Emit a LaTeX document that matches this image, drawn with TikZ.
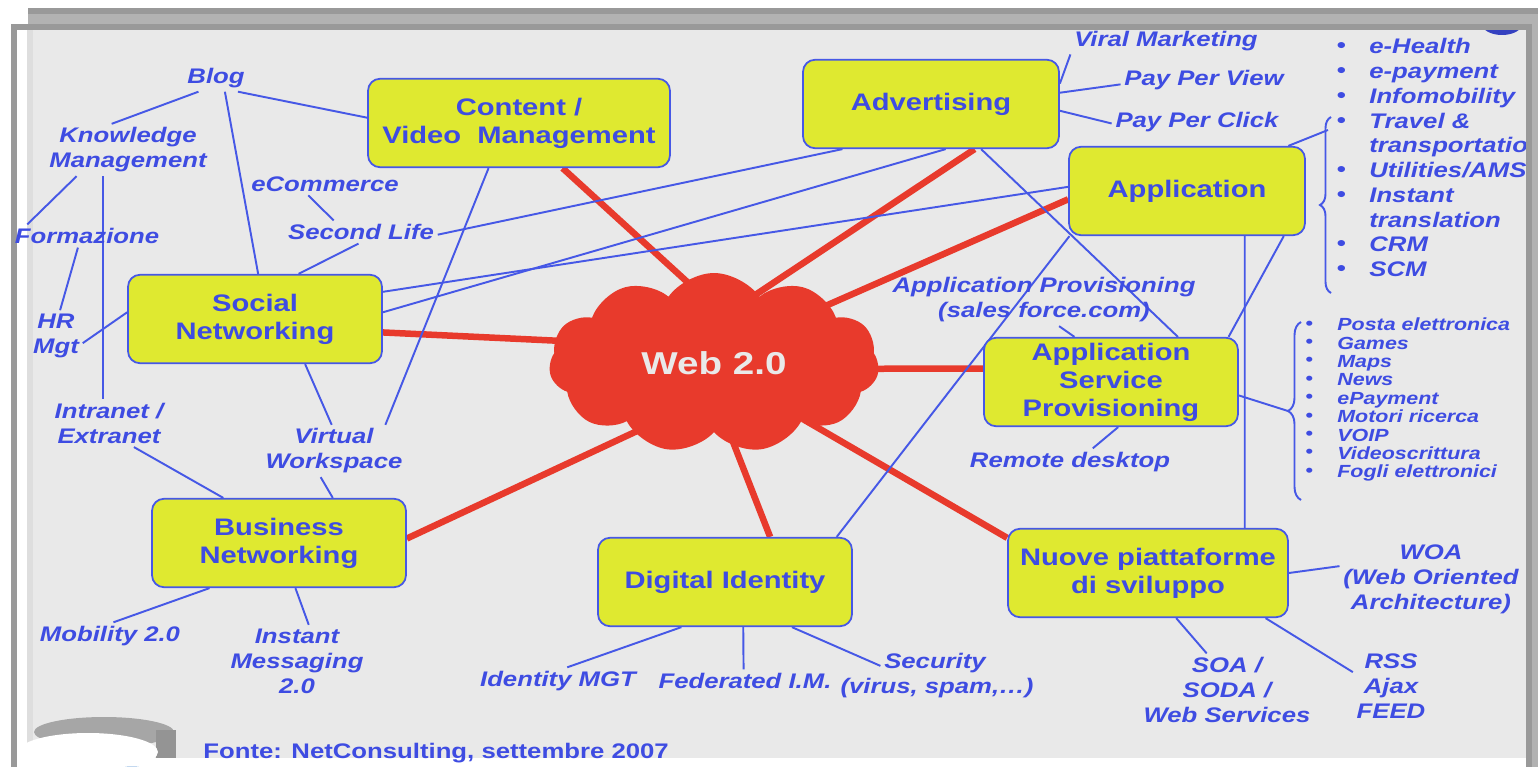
\documentclass[tikz,border=0pt]{standalone}
\usepackage{fontspec}
\setmainfont{Liberation Sans}[FakeStretch=1.22]
\usetikzlibrary{calc}
\usetikzlibrary{positioning}
\usetikzlibrary{shapes.symbols}
\usetikzlibrary{decorations.pathreplacing}

\definecolor{tblue}{RGB}{62,76,226}
\definecolor{lblue}{RGB}{70,88,230}
\definecolor{ybox}{RGB}{223,233,48}
\definecolor{webred}{RGB}{232,58,44}
\definecolor{slide}{RGB}{233,233,233}
\definecolor{frame}{RGB}{153,153,153}
\definecolor{framelt}{RGB}{178,178,178}

\pgfdeclarelayer{bg}
\pgfdeclarelayer{lines}
\pgfdeclarelayer{fg}
\pgfsetlayers{bg,lines,main,fg}

\tikzset{
    box/.style={draw=lblue, fill=ybox, line width=1pt, rounded corners=0.24cm,
        minimum height=1.77cm, inner sep=0pt, align=center, text=tblue,
        font=\fontsize{13.6}{16}\selectfont\bfseries},
    lab/.style={text=tblue, align=center, inner sep=2pt,
        font=\fontsize{12}{14.2}\selectfont\bfseries\itshape},
    small/.style={text=tblue, inner sep=0pt,
        font=\fontsize{10}{10.4}\selectfont\bfseries\itshape},
    link/.style={draw=lblue, line width=1.1pt},
    hot/.style={draw=webred, line width=0.13cm, shorten >=-8pt},
    brc/.style={draw=lblue, line width=1.1pt, decorate,
        decoration={brace, amplitude=#1}},
}

\begin{document}
\begin{tikzpicture}[x=0.02cm, y=-0.02cm]
    \useasboundingbox (0,0) rectangle (1538,767);

    \begin{pgfonlayer}{bg}
        \fill [white] (0,0) rectangle (1538,767);
        \fill [framelt] (28,8) rectangle (1538,767);
        \fill [frame] (11,24) rectangle (1532,767);
        \fill [white] (17,30) rectangle (1526,767);
        \fill [black!13] (27,30) rectangle (1526,758);
        \fill [slide] (33,30) rectangle (1526,758);
        \fill [tblue!85!black] (1502,24) ellipse (0.4cm and 0.22cm);
        \fill [frame] (28,8) rectangle (1538,14);
        \fill [framelt] (28,14) rectangle (1538,24);
        \fill [frame] (11,24) rectangle (1532,30);
        \fill [black!35] (104,732) ellipse (1.4cm and 0.3cm);
        \fill [black!42] (156,730) rectangle (176,758);
        \fill [white] (88,752) ellipse (1.4cm and 0.38cm);
        \fill [cyan!55!blue!70] (132,774) ellipse (0.4cm and 0.15cm);
    \end{pgfonlayer}

    \node (web) [cloud, cloud puffs=11, cloud puff arc=110, cloud ignores aspect,
        minimum width=6.6cm, minimum height=3.6cm, fill=webred, inner sep=0pt,
        text=slide, font=\fontsize{18}{20}\selectfont\bfseries] at (714,363) {Web 2.0};

    \node (cvm) [box, minimum width=6.04cm] at (519,123) {Content /\\Video\ \ Management};
    \node (adv) [box, minimum width=5.12cm] at (931,104) {Advertising};
    \node (app) [box, minimum width=4.72cm] at (1187,191) {Application};
    \node (soc) [box, minimum width=5.08cm] at (255,319) {Social\\Networking};
    \node (asp) [box, minimum width=5.08cm] at (1111,382) {Application\\Service\\Provisioning};
    \node (bus) [box, minimum width=5.08cm] at (279,543) {Business\\Networking};
    \node (dig) [box, minimum width=5.08cm] at (725,582) {Digital Identity};
    \node (nuo) [box, minimum width=5.6cm] at (1148,573) {Nuove piattaforme\\di sviluppo};

    \node (blog) [lab] at (216,78) {Blog};
    \node (km) [lab] at (128,150) {Knowledge\\Management};
    \node (form) [lab] at (87,236) {Formazione};
    \node (hr) [lab] at (56,336) {HR\\Mgt};
    \node (intra) [lab] at (109,423) {Intranet /\\Extranet};
    \node (ecom) [lab] at (325,184) {eCommerce};
    \node (slife) [lab] at (361,232) {Second Life};
    \node (vw) [lab] at (334,451) {Virtual\\Workspace};
    \node (mob) [lab] at (110,636) {Mobility 2.0};
    \node (im) [lab] at (297,661) {Instant\\Messaging\\2.0};
    \node (idm) [lab] at (558,681) {Identity MGT};
    \node (fed) [lab] at (745,681) {Federated I.M.};
    \node (sec) [lab] at (935,663) {Security};
    \node (secx) [lab] at (937,688) {(virus, spam,\ldots)};
    \node (soa) [lab] at (1227,690) {SOA /\\SODA /\\Web Services};
    \node (rss) [lab] at (1391,686) {RSS\\Ajax\\FEED};
    \node (woa) [lab] at (1431,579) {WOA\\(Web Oriented\\Architecture)};
    \node (remote) [lab] at (1070,462) {Remote desktop};
    \node (apprv) [lab] at (1044,300) {Application Provisioning\\(sales force.com)};
    \node (viral) [lab] at (1166,41) {Viral Marketing};
    \node (ppv) [lab] at (1204,80) {Pay Per View};
    \node (ppc) [lab] at (1197,122) {Pay Per Click};

    \foreach \y/\txt [count=\i] in {48/e-Health, 73/e-payment, 98/Infomobility, 123/Travel \&,
            147/transportation, 172/{Utilities/AMS}, 197/Instant, 222/translation, 246/CRM, 271/SCM}
        \node (use\i) [lab, anchor=mid west, inner sep=0pt] at (1369,\y+1) {\txt};
    \foreach \y [count=\i] in {48,73,98,123,172,197,246,271}
        \node (bul\i) [lab, inner sep=0pt] at (1341,\y) {\textbullet};

    \foreach \txt [count=\i] in {Posta elettronica, Games, Maps, News, ePayment,
            Motori ricerca, VOIP, Videoscrittura, Fogli elettronici} {
        \node (svc\i) [small, anchor=mid west] at (1337, 307.6+18.4*\i) {\txt};
        \node (dot\i) [small] at (1309, 306.6+18.4*\i) {\textbullet};
    }

    \draw [brc=0.22cm] (1331,293) -- (1331,117);
    \draw [brc=0.26cm] (1301,500) -- (1301,322);
    \coordinate (br1) at (1328,130);
    \coordinate (br2) at (1288,411);

    \node (src) [text=tblue, anchor=west, inner sep=0pt,
        font=\fontsize{12}{14}\selectfont\bfseries] at (203,753) {Fonte: NetConsulting, settembre 2007};

    \begin{pgfonlayer}{lines}
        \draw [hot] (cvm.-46) -- (web.109);
        \draw [hot] (adv.-46) -- (web.58);
        \draw [hot] (app.184) -- (web.27);
        \draw [hot] (soc.-6) -- (web.172);
        \draw [hot] (asp.174) -- (web.-2);
        \draw [hot] (bus.2) -- (web.221);
        \draw [hot] (dig.45) -- (web.-76);
        \draw [hot] (nuo.166) -- (web.-32);

        \draw [link] (blog.218) -- (km.122);
        \draw [link] (blog.-32) -- (cvm.178);
        \draw [link] (blog.-57) -- (soc.86);
        \draw [link] (km.207) -- (form.169);
        \draw [link] ($(km.south)+(-25,0)$) -- ($(intra.north)+(-6,0)$);
        \draw [link] (form.232) -- (hr.81);
        \draw [link] (hr.-15) -- (soc.177);
        \draw [link] (ecom.214) -- (slife.157);
        \draw [link] (slife.258) -- (soc.46);
        \draw [link] (slife.-2) -- (adv.207);
        \draw [link] (soc.12) -- (app.178);
        \draw [link] (soc.3) -- (adv.-72);
        \draw [link] (cvm.236) -- (vw.27);
        \draw [link] (soc.-42) -- (vw.95);
        \draw [link] (vw.243) -- (bus.40);
        \draw [link] (intra.-44) -- (bus.141);
        \draw [link] (bus.213) -- (mob.76);
        \draw [link] (bus.-70) -- (im.72);
        \draw [link] (adv.9) -- (viral.188);
        \draw [link] (adv.5) -- (ppv.183);
        \draw [link] (adv.-3) -- (ppc.181);
        \draw [link] (adv.-42) -- (asp.34);
        \draw [link] (app.-25) -- (asp.21);
        \draw [link] (app.-38) -- (nuo.25);
        \draw [link] (app.201) -- (dig.22);
        \draw [link] (asp.129) -- (apprv.-60);
        \draw [link] (asp.-81) -- (remote.31);
        \draw [link] (app.24) -- (br1);
        \draw [link] (asp.-6) -- (br2);
        \draw [link] (dig.226) -- (idm.56);
        \draw [link] (dig.-68) -- (fed.97);
        \draw [link] (dig.-34) -- (sec.183);
        \draw [link] (nuo.0) -- (woa.172);
        \draw [link] (nuo.-58) -- (soa.119);
        \draw [link] (nuo.-21.5) -- (rss.160);
    \end{pgfonlayer}

    \begin{pgfonlayer}{fg}
        \fill [frame] (1526,24) rectangle (1532,767);
        \fill [framelt] (1532,14) rectangle (1538,767);
    \end{pgfonlayer}
\end{tikzpicture}
\end{document}
